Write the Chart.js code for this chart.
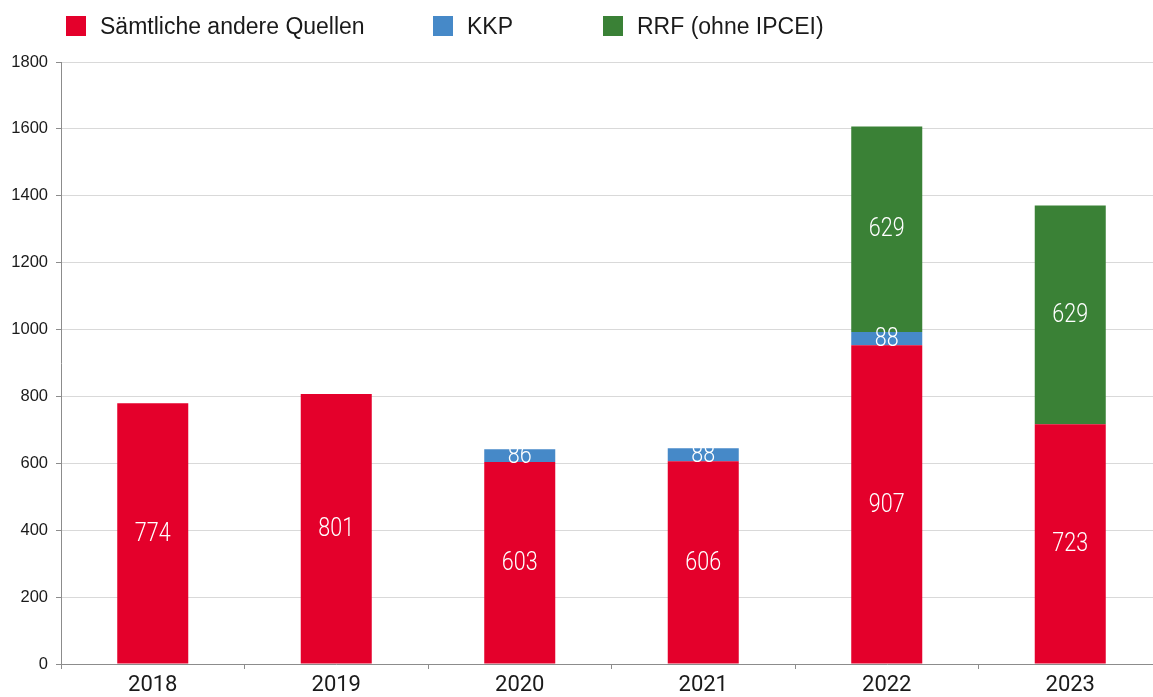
<!DOCTYPE html>
<html lang="de">
<head>
<meta charset="utf-8">
<script src="https://cdn.jsdelivr.net/npm/chart.js@4.4.1/dist/chart.umd.min.js"></script>
<style>
  html, body { margin: 0; padding: 0; background: #ffffff; overflow: hidden; }
  #wrap { position: relative; width: 1162px; height: 697px; }
  #legend { position: absolute; left: 0; top: 0; width: 1153px; height: 50px; z-index: 2; }
  .item { position: absolute; top: 16px; height: 20px; display: flex; align-items: center;
          font-family: "Liberation Sans", Arial, sans-serif; font-size: 23px; color: #1a1a1a; white-space: nowrap; }
  .box { width: 20px; height: 20px; margin-right: 14px; flex: none; }
</style>
</head>
<body>
<div id="wrap">
  <div id="legend"></div>
  <canvas id="c"></canvas>
</div>
<script>
// ---- data ----
const categories = ['2018', '2019', '2020', '2021', '2022', '2023'];
const seriesNames = ['Sämtliche andere Quellen', 'KKP', 'RRF (ohne IPCEI)'];
// bar heights as drawn in the picture
const sonstigeValues = [780, 807, 604, 606, 953, 717];
const kkpValues = [null, null, 38, 39, 40, null];
const rrfValues = [null, null, null, null, 614, 654];
// value labels printed inside the bars
const sonstigeLabels = ['774', '801', '603', '606', '907', '723'];
const kkpLabels = [null, null, '86', '88', '88', null];
const rrfLabels = [null, null, null, null, '629', '629'];
// y axis
const yMin = 0, yMax = 1800, yStep = 200;

const colors = ['#E4002B', '#4689C8', '#3A8136'];
const legendLeft = [66, 433, 603];

// HTML legend
const legendEl = document.getElementById('legend');
seriesNames.forEach((name, i) => {
  const it = document.createElement('div');
  it.className = 'item';
  it.style.left = legendLeft[i] + 'px';
  const b = document.createElement('span');
  b.className = 'box';
  b.style.background = colors[i];
  const t = document.createElement('span');
  t.textContent = name;
  it.appendChild(b); it.appendChild(t);
  legendEl.appendChild(it);
});

const labelSets = [sonstigeLabels, kkpLabels, rrfLabels];

const valueLabelPlugin = {
  id: 'valueLabels',
  afterDatasetsDraw(chart) {
    const ctx = chart.ctx;
    chart.data.datasets.forEach((ds, di) => {
      const meta = chart.getDatasetMeta(di);
      meta.data.forEach((el, i) => {
        const txt = labelSets[di][i];
        if (txt == null || ds.data[i] == null) return;
        const y = (el.y + el.base) / 2;
        ctx.save();
        ctx.fillStyle = '#ffffff';
        ctx.font = '300 25px Roboto, "Liberation Sans", sans-serif';
        ctx.textAlign = 'center';
        ctx.textBaseline = 'middle';
        ctx.translate(el.x, y + 1);
        ctx.scale(0.86, 1);
        ctx.fillText(txt, 0, 0);
        ctx.restore();
      });
    });
  }
};

new Chart(document.getElementById('c'), {
  type: 'bar',
  data: {
    labels: categories,
    datasets: [
      { label: seriesNames[0], data: sonstigeValues, backgroundColor: colors[0] },
      { label: seriesNames[1], data: kkpValues, backgroundColor: colors[1] },
      { label: seriesNames[2], data: rrfValues, backgroundColor: colors[2] }
    ]
  },
  options: {
    responsive: true,
    maintainAspectRatio: false,
    animation: false,
    devicePixelRatio: 1,
    layout: { padding: { top: 62, left: 0, right: 0, bottom: 0 } },
    datasets: { bar: { barPercentage: 0.387, categoryPercentage: 1.0 } },
    plugins: { legend: { display: false }, tooltip: { enabled: false } },
    scales: {
      x: {
        stacked: true,
        grid: { offset: true, drawOnChartArea: false, drawTicks: true, tickLength: 5, color: '#8c8c8c' },
        border: { display: true, color: '#8c8c8c', width: 1 },
        ticks: { color: '#1a1a1a', font: { family: 'Roboto, "Liberation Sans", sans-serif', size: 22 }, padding: 3 },
        afterFit(s) { s.height = 33; }
      },
      y: {
        stacked: true,
        min: yMin, max: yMax,
        ticks: {
          stepSize: yStep, color: '#1a1a1a',
          font: { family: '"Liberation Sans", Arial, sans-serif', size: 16.5 }, padding: 8,
          callback: (v) => String(v)
        },
        grid: { color: '#d9d9d9', tickColor: '#8c8c8c', tickLength: 5, lineWidth: 1 },
        border: { display: true, color: '#8c8c8c', width: 1 },
        afterFit(s) { s.width = 61; }
      }
    }
  },
  plugins: [valueLabelPlugin]
});
</script>
</body>
</html>
